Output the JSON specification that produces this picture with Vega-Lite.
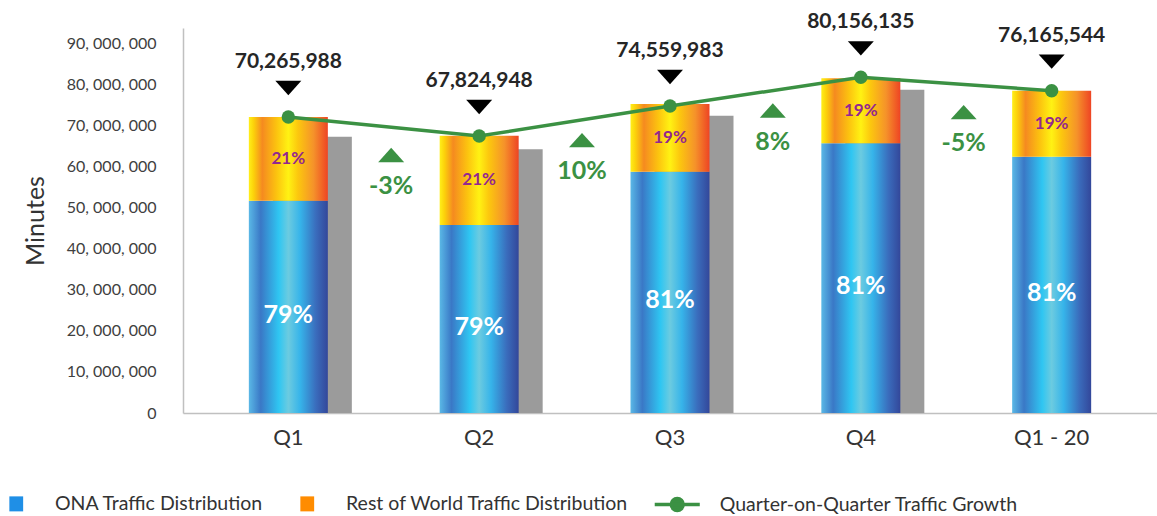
{
  "$schema": "https://vega.github.io/schema/vega-lite/v6.json",
  "autosize": "none",
  "width": 974,
  "height": 385,
  "padding": {"left": 183, "top": 28, "right": 0, "bottom": 103},
  "background": "white",
  "config": {
    "view": {"stroke": null},
    "font": "Lato",
    "text": {"font": "Lato"},
    "legend": {
      "title": null,
      "orient": "none",
      "direction": "horizontal",
      "labelFont": "Lato",
      "labelFontSize": 19.5,
      "labelColor": "#333333",
      "labelLimit": 400,
      "symbolOpacity": 1
    }
  },
  "data": {
    "values": [
      {"q": "Q1", "ona": 51640000, "total": 72000000, "grey": 67210000, "line": 72000000, "label": "70,265,988", "ona_pct": "79%", "row_pct": "21%", "growth": null, "growth_y": null},
      {"q": "Q2", "ona": 45730000, "total": 67450000, "grey": 64140000, "line": 67380000, "label": "67,824,948", "ona_pct": "79%", "row_pct": "21%", "growth": "-3%", "growth_y": 62760000},
      {"q": "Q3", "ona": 58700000, "total": 75160000, "grey": 72320000, "line": 74680000, "label": "74,559,983", "ona_pct": "81%", "row_pct": "19%", "growth": "10%", "growth_y": 66400000},
      {"q": "Q4", "ona": 65600000, "total": 81420000, "grey": 78640000, "line": 81660000, "label": "80,156,135", "ona_pct": "81%", "row_pct": "19%", "growth": "8%", "growth_y": 73580000},
      {"q": "Q1 - 20", "ona": 62340000, "total": 78400000, "grey": null, "line": 78400000, "label": "76,165,544", "ona_pct": "81%", "row_pct": "19%", "growth": "-5%", "growth_y": 73200000}
    ]
  },
  "encoding": {
    "x": {
      "field": "q",
      "type": "nominal",
      "sort": null,
      "scale": {"paddingInner": 0, "paddingOuter": 0.052},
      "axis": {
        "title": null,
        "labelAngle": 0,
        "ticks": false,
        "domainColor": "#c0c0c0",
        "domainWidth": 1.5,
        "labelFontSize": 22,
        "labelColor": "#333333",
        "labelPadding": 14,
        "labelFont": "Lato"
      }
    }
  },
  "layer": [
    {
      "transform": [{"filter": "datum.grey != null"}],
      "mark": {"type": "bar", "width": {"band": 0.414}, "xOffset": 24, "color": "#9b9b9b"},
      "encoding": {
        "y": {
          "field": "grey",
          "type": "quantitative",
          "scale": {"domain": [0, 93650000], "nice": false},
          "axis": {
            "values": [0, 10000000, 20000000, 30000000, 40000000, 50000000, 60000000, 70000000, 80000000, 90000000],
            "labelExpr": "join(split(format(datum.value, ','), ','), ', ')",
            "grid": false,
            "ticks": false,
            "domainColor": "#c0c0c0",
            "domainWidth": 1.5,
            "labelFontSize": 16,
            "labelColor": "#404040",
            "labelPadding": 27,
            "labelFont": "Lato",
            "title": "Minutes",
            "titleFontSize": 25,
            "titleFontWeight": "normal",
            "titleColor": "#333333",
            "titleFont": "Lato",
            "titlePadding": 18
          }
        }
      }
    },
    {
      "mark": {
        "type": "bar",
        "width": {"band": 0.414},
        "strokeWidth": 0,
        "fill": {
          "gradient": "linear", "x1": 0, "y1": 0, "x2": 1, "y2": 0,
          "stops": [
            {"offset": 0, "color": "#5ab8e6"},
            {"offset": 0.15, "color": "#3a78c6"},
            {"offset": 0.38, "color": "#2fc6f2"},
            {"offset": 0.5, "color": "#6ccbe0"},
            {"offset": 0.65, "color": "#36b4ea"},
            {"offset": 0.85, "color": "#3a6cbc"},
            {"offset": 1, "color": "#33479a"}
          ]
        }
      },
      "encoding": {
        "y": {"field": "ona", "type": "quantitative"},
        "stroke": {
          "datum": "ONA Traffic Distribution",
          "scale": {
            "domain": ["ONA Traffic Distribution", "Rest of World Traffic Distribution"],
            "range": ["#1f8fe6", "#ff8c00"]
          },
          "legend": {
            "legendX": -176.5,
            "legendY": 466,
            "columns": 2,
            "symbolType": "M-0.7,-1H0.7V1H-0.7Z",
            "symbolSize": 16,
            "symbolStrokeWidth": 11,
            "labelOffset": 29,
            "columnPadding": 20
          }
        }
      }
    },
    {
      "mark": {
        "type": "bar",
        "width": {"band": 0.414},
        "strokeWidth": 0,
        "fill": {
          "gradient": "linear", "x1": 0, "y1": 0, "x2": 1, "y2": 0,
          "stops": [
            {"offset": 0, "color": "#ffef1a"},
            {"offset": 0.06, "color": "#fcd20a"},
            {"offset": 0.17, "color": "#f58a20"},
            {"offset": 0.35, "color": "#fcc30f"},
            {"offset": 0.5, "color": "#fff213"},
            {"offset": 0.62, "color": "#fcc80e"},
            {"offset": 0.82, "color": "#f5922a"},
            {"offset": 1, "color": "#ee4424"}
          ]
        }
      },
      "encoding": {
        "y": {"field": "total", "type": "quantitative"},
        "y2": {"field": "ona"},
        "stroke": {"datum": "Rest of World Traffic Distribution"}
      }
    },
    {
      "transform": [{"calculate": "datum.ona / 2", "as": "ona_mid"}],
      "mark": {"type": "text", "fontSize": 25, "fontWeight": "bold", "color": "white", "baseline": "middle", "dy": 8},
      "encoding": {
        "y": {"field": "ona_mid", "type": "quantitative"},
        "text": {"field": "ona_pct"}
      }
    },
    {
      "transform": [{"calculate": "(datum.ona + datum.total) / 2", "as": "row_mid"}],
      "mark": {"type": "text", "fontSize": 17, "fontWeight": "bold", "color": "#93278f", "baseline": "middle"},
      "encoding": {
        "y": {"field": "row_mid", "type": "quantitative"},
        "text": {"field": "row_pct"}
      }
    },
    {
      "mark": {"type": "line", "strokeWidth": 3.5, "color": "#3b9143"},
      "encoding": {
        "y": {"field": "line", "type": "quantitative"}
      }
    },
    {
      "mark": {"type": "point", "filled": true, "size": 180, "opacity": 1},
      "encoding": {
        "y": {"field": "line", "type": "quantitative"},
        "fill": {
          "datum": "Quarter-on-Quarter Traffic Growth",
          "scale": {"domain": ["Quarter-on-Quarter Traffic Growth"], "range": ["#3b9143"]},
          "legend": {
            "legendX": 483.75,
            "legendY": 466,
            "symbolType": "M-2.65,0H2.65M-0.7,0A0.7,0.7 0 1,1 0.7,0A0.7,0.7 0 1,1 -0.7,0",
            "symbolSize": 289,
            "symbolStrokeColor": "#3b9143",
            "symbolStrokeWidth": 3.5,
            "labelOffset": 32
          }
        }
      }
    },
    {
      "mark": {"type": "point", "filled": true, "size": 676, "color": "black", "opacity": 1, "yOffset": -29, "shape": "M-1,-0.55L1,-0.55L0,0.55Z"},
      "encoding": {
        "y": {"field": "line", "type": "quantitative"}
      }
    },
    {
      "mark": {"type": "text", "fontSize": 21, "fontWeight": "bold", "color": "#262626", "baseline": "middle", "dy": -55},
      "encoding": {
        "y": {"field": "line", "type": "quantitative"},
        "text": {"field": "label"}
      }
    },
    {
      "transform": [{"filter": "datum.growth != null"}],
      "mark": {"type": "point", "filled": true, "size": 676, "color": "#3b9143", "opacity": 1, "xOffset": -88, "shape": "M-1,0.55L1,0.55L0,-0.55Z"},
      "encoding": {
        "y": {"field": "growth_y", "type": "quantitative"}
      }
    },
    {
      "transform": [{"filter": "datum.growth != null"}],
      "mark": {"type": "text", "fontSize": 25, "fontWeight": "bold", "color": "#3b9143", "baseline": "middle", "xOffset": -88, "dy": 31},
      "encoding": {
        "y": {"field": "growth_y", "type": "quantitative"},
        "text": {"field": "growth"}
      }
    }
  ]
}
